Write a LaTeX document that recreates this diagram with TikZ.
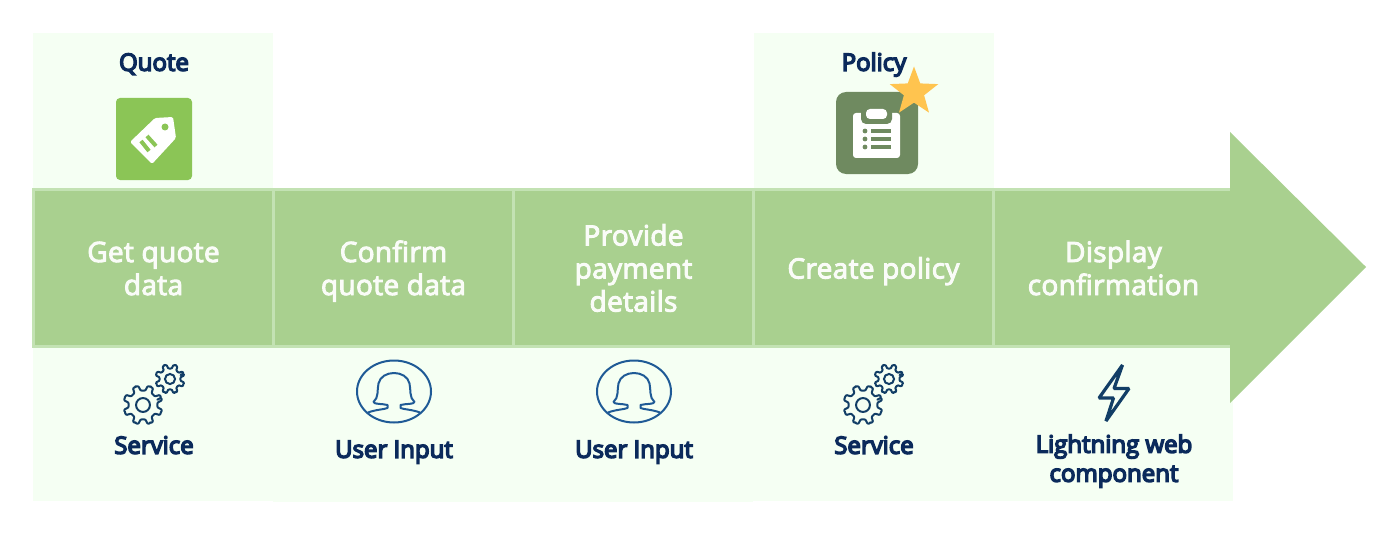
\documentclass[tikz,border=0pt]{standalone}
\usepackage{fontspec}
\setmainfont{Open Sans}
\usetikzlibrary{positioning,shapes.geometric}
\definecolor{bandgreen}{HTML}{A9D08F}
\definecolor{bandline}{HTML}{C3E2B3}
\definecolor{panelgreen}{HTML}{F5FFF3}
\definecolor{labelblue}{HTML}{0B2A5B}
\definecolor{iconblue}{HTML}{123E66}
\definecolor{userblue}{HTML}{1F5A96}
\definecolor{tagface}{HTML}{8BC556}
\definecolor{policyface}{HTML}{6F8A60}
\definecolor{stargold}{HTML}{FFC44F}
\newcommand{\steptop}{\rule{0pt}{31pt}}
\newcommand{\stepbot}{\rule[-10pt]{0pt}{10pt}}
\tikzset{
  panel/.style={fill=panelgreen,draw=none,minimum width=240,minimum height=#1,inner sep=0,outer sep=0},
  stepcell/.style={fill=bandgreen,draw=bandline,line width=2.5,minimum width=240,minimum height=157,
    inner sep=0,outer sep=0,align=center,text=white!94!bandgreen,
    font=\fontsize{28}{33}\selectfont\addfontfeature{LetterSpace=1.2,FakeBold=3.5}},
  label/.style={text=labelblue,inner sep=0,align=center,
    execute at begin node=\strut,execute at end node=\strut,
    font=\fontsize{24}{29}\selectfont\addfontfeature{FakeBold=6}},
  pics/gearicon/.style n args={2}{code={
    \draw[iconblue,line width=2,line join=round,rounded corners=0.8,fill=panelgreen]
      (-20:#2) foreach \A in {0,45,...,315} {
        -- (\A-22:#1) arc[start angle=\A-22,end angle=\A-14,radius=#1]
        -- (\A-9:#2) arc[start angle=\A-9,end angle=\A+9,radius=#2]
        -- (\A+14:#1) arc[start angle=\A+14,end angle=\A+23,radius=#1]
      } -- cycle;
    \draw[iconblue,line width=2] (0,0) circle[radius=0.48*#2];
  }},
  pics/usericon/.style={code={
    \draw[userblue,line width=2] (0,0) circle[x radius=37,y radius=31];
    \draw[userblue,line width=2,line join=round]
      (-26,21) .. controls (-18,18) and (-10,18) .. (-6.5,16.5) -- (-6.5,13.5)
      .. controls (-12,12) and (-20,13) .. (-20.5,10.5)
      .. controls (-15,6) and (-17,-2) .. (-15.5,-8)
      .. controls (-14,-15) and (-7,-18.5) .. (0,-18.5)
      .. controls (7,-18.5) and (14,-15) .. (15.5,-8)
      .. controls (17,-2) and (15,6) .. (20.5,10.5)
      .. controls (20,13) and (12,12) .. (6.5,13.5) -- (6.5,16.5)
      .. controls (10,18) and (18,18) .. (26,21);
  }}
}
\begin{document}
\begin{tikzpicture}[x=1pt,y=-1pt]
 \useasboundingbox (0,0) rectangle (1387,559);
 \fill[white] (0,0) rectangle (1387,559);
 % upper panels
 \node[panel=156] (quotepanel) at (153,111) {};
 \node[panel=156] (policypanel) at (873.5,111) {};
 % lower panels
 \node[panel=154] (lowera) at (153,424) {};
 \node[panel=156,right=0 of lowera] (lowerb) {};
 \node[panel=156,right=0 of lowerb] (lowerc) {};
 \node[panel=154,right=0 of lowerc] (lowerd) {};
 \node[panel=154,right=0 of lowerd] (lowere) {};
 % band with its head
 \node[stepcell] (stepa) at (153.5,268) {\steptop Get quote\\data\stepbot};
 \node[stepcell,right=0 of stepa] (stepb) {\steptop Confirm\\quote data\stepbot};
 \node[stepcell,right=0 of stepb] (stepc) {\steptop Provide\\payment\\details\stepbot};
 \node[stepcell,right=0 of stepc] (stepd) {\steptop Create policy\stepbot};
 \node[stepcell,right=0 of stepd] (stepe) {\steptop Display\\confirmation\stepbot};
 \fill[bandgreen] (1230,132) -- (1366,267) -- (1230,403) -- cycle;
 % quote icon
 \node[label] (quotelabel) at (154,65) {Quote};
 \node[fill=tagface,rounded corners=4,minimum width=76,minimum height=82,inner sep=0] (tagbox) at (154,139) {};
 \fill[white,rounded corners=1.5] (173,117) -- (176,138) -- (152,164) -- (130,142) -- (155,118) -- cycle;
 \fill[tagface] (165,127) circle[radius=3.5];
 \draw[tagface,line width=4] (141,141) -- (149,151) (147,136) -- (156,146);
 % policy icon
 \node[label] (policylabel) at (874,65) {Policy};
 \node[fill=policyface,rounded corners=10,minimum size=82,inner sep=0] (policybox) at (877,133) {};
 \node[fill=white,rounded corners=3,minimum width=47,minimum height=45,inner sep=0] (clipboard) at (876.5,135.5) {};
 \fill[policyface,rounded corners=5] (861,107) rectangle (892,124);
 \fill[white,rounded corners=4] (866,109) rectangle (887,119);
 \foreach \Y in {131,139,147} {
   \fill[policyface] (865,\Y) circle[radius=2.4];
   \fill[policyface] (871,\Y-2.2) rectangle (891,\Y+2.2);
 }
 \node[star,star points=5,star point ratio=2.4,fill=stargold,minimum size=51,inner sep=0] (policystar) at (914,92) {};
 % type icons
 \pic at (143,405) {gearicon={19.5}{14.5}};
 \pic at (170,379) {gearicon={14.5}{10.5}};
 \node[label] (servicea) at (154,448) {Service};
 \pic at (394,391.5) {usericon};
 \node[label] (inputa) at (394,452) {User Input};
 \pic at (634,391.5) {usericon};
 \node[label] (inputb) at (634,452) {User Input};
 \pic at (863,405) {gearicon={19.5}{14.5}};
 \pic at (889,379) {gearicon={14.5}{10.5}};
 \node[label] (serviceb) at (874,448) {Service};
 \draw[iconblue,line width=3.2,line join=bevel] (1122.5,365) -- (1099,398) -- (1113.5,398) -- (1106,421) -- (1129,388.5) -- (1114,388.5) -- cycle;
 \node[label] (lwclabel) at (1114,462.5) {Lightning web\\component};
\end{tikzpicture}
\end{document}
